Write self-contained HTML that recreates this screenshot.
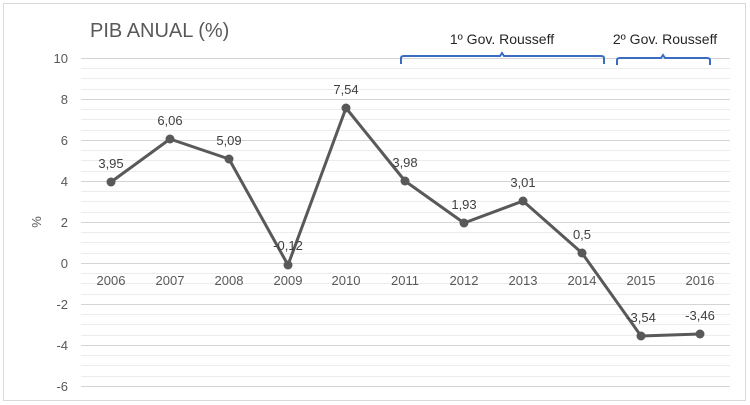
<!DOCTYPE html><html><head><style>body{margin:0;background:#fff}svg{display:block}</style></head><body>
<svg width="750" height="405" xmlns="http://www.w3.org/2000/svg" font-family="Liberation Sans, sans-serif">
<rect x="3.5" y="3.5" width="742" height="397" fill="#fff" stroke="#d9d9d9"/>
<g stroke="#ececec" stroke-width="1">
<line x1="81" x2="730" y1="68.5" y2="68.5"/><line x1="81" x2="730" y1="78.5" y2="78.5"/><line x1="81" x2="730" y1="89.5" y2="89.5"/>
<line x1="81" x2="730" y1="109.5" y2="109.5"/><line x1="81" x2="730" y1="119.5" y2="119.5"/><line x1="81" x2="730" y1="130.5" y2="130.5"/>
<line x1="81" x2="730" y1="150.5" y2="150.5"/><line x1="81" x2="730" y1="160.5" y2="160.5"/><line x1="81" x2="730" y1="171.5" y2="171.5"/>
<line x1="81" x2="730" y1="191.5" y2="191.5"/><line x1="81" x2="730" y1="201.5" y2="201.5"/><line x1="81" x2="730" y1="212.5" y2="212.5"/>
<line x1="81" x2="730" y1="232.5" y2="232.5"/><line x1="81" x2="730" y1="242.5" y2="242.5"/><line x1="81" x2="730" y1="253.5" y2="253.5"/>
<line x1="81" x2="730" y1="273.5" y2="273.5"/><line x1="81" x2="730" y1="283.5" y2="283.5"/><line x1="81" x2="730" y1="294.5" y2="294.5"/>
<line x1="81" x2="730" y1="314.5" y2="314.5"/><line x1="81" x2="730" y1="324.5" y2="324.5"/><line x1="81" x2="730" y1="335.5" y2="335.5"/>
<line x1="81" x2="730" y1="355.5" y2="355.5"/><line x1="81" x2="730" y1="365.5" y2="365.5"/><line x1="81" x2="730" y1="376.5" y2="376.5"/>
</g>
<g stroke="#d4d4d4" stroke-width="1">
<line x1="81" x2="730" y1="58.5" y2="58.5"/><line x1="81" x2="730" y1="99.5" y2="99.5"/><line x1="81" x2="730" y1="140.5" y2="140.5"/>
<line x1="81" x2="730" y1="181.5" y2="181.5"/><line x1="81" x2="730" y1="222.5" y2="222.5"/><line x1="81" x2="730" y1="263.5" y2="263.5"/>
<line x1="81" x2="730" y1="304.5" y2="304.5"/><line x1="81" x2="730" y1="345.5" y2="345.5"/><line x1="81" x2="730" y1="386.5" y2="386.5"/>
</g>
<text x="90" y="37" font-size="20" fill="#595959">PIB ANUAL (%)</text>
<g font-size="13" fill="#595959" text-anchor="end">
<text x="68" y="63">10</text><text x="68" y="104">8</text><text x="68" y="145">6</text><text x="68" y="186">4</text><text x="68" y="227">2</text><text x="68" y="268">0</text><text x="68" y="309">-2</text><text x="68" y="350">-4</text><text x="68" y="391">-6</text>
</g>
<text x="41" y="222" font-size="13" fill="#595959" text-anchor="middle" transform="rotate(-90 41 222)">%</text>
<g font-size="13" fill="#595959" text-anchor="middle">
<text x="111" y="285">2006</text><text x="170" y="285">2007</text><text x="229" y="285">2008</text><text x="288" y="285">2009</text><text x="346" y="285">2010</text><text x="405" y="285">2011</text><text x="464" y="285">2012</text><text x="523" y="285">2013</text><text x="582" y="285">2014</text><text x="641" y="285">2015</text><text x="700" y="285">2016</text>
</g>
<polyline fill="none" stroke="#595959" stroke-width="3" stroke-linejoin="round" points="111,182 170,139 229,159 288,265 346,108 405,181 464,223 523,201 582,253 641,336 700,334"/>
<g fill="#595959">
<circle cx="111" cy="182" r="4.5"/><circle cx="170" cy="139" r="4.5"/><circle cx="229" cy="159" r="4.5"/><circle cx="288" cy="265" r="4.5"/><circle cx="346" cy="108" r="4.5"/><circle cx="405" cy="181" r="4.5"/><circle cx="464" cy="223" r="4.5"/><circle cx="523" cy="201" r="4.5"/><circle cx="582" cy="253" r="4.5"/><circle cx="641" cy="336" r="4.5"/><circle cx="700" cy="334" r="4.5"/>
</g>
<g font-size="13" fill="#404040" text-anchor="middle">
<text x="111" y="168">3,95</text><text x="170" y="125">6,06</text><text x="229" y="145">5,09</text><text x="288" y="250">-0,12</text><text x="346" y="94">7,54</text><text x="405" y="167">3,98</text><text x="464" y="209">1,93</text><text x="523" y="187">3,01</text><text x="582" y="239">0,5</text><text x="641" y="322">-3,54</text><text x="700" y="320">-3,46</text>
</g>
<g fill="none" stroke="#3a6cc4" stroke-width="2">
<path d="M401,64 V58 Q401,56 404,56 H500 L502,53 L504,56 H601 Q604,56 604,58 V64"/>
<path d="M617,65 V60 Q617,58 620,58 H661 L663,55 L665,58 H707 Q710,58 710,60 V65"/>
</g>
<g font-size="14" fill="#262626" text-anchor="middle">
<text x="502" y="44">1º Gov. Rousseff</text><text x="665" y="44">2º Gov. Rousseff</text>
</g>
</svg></body></html>
